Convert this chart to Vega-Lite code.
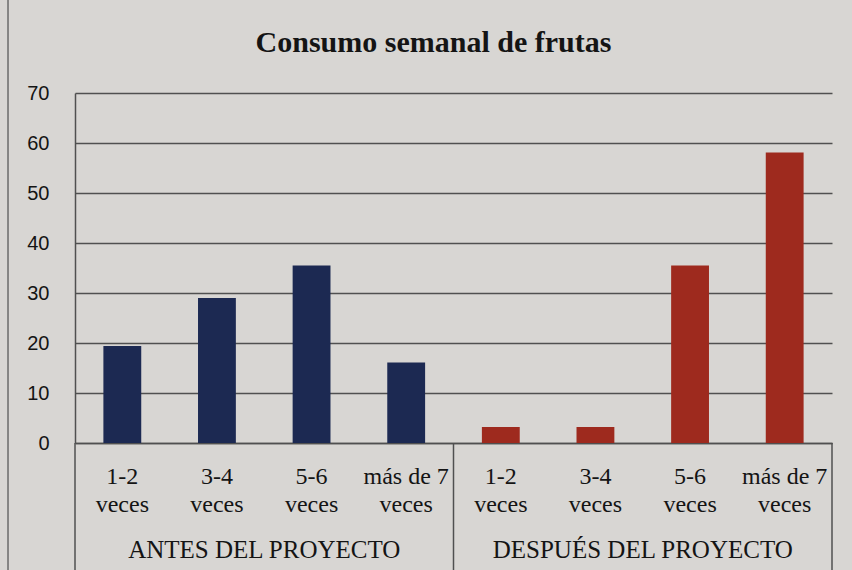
{
  "$schema": "https://vega.github.io/schema/vega-lite/v6.json",
  "width": 757,
  "height": 350,
  "autosize": {"type": "none"},
  "padding": {"left": 75, "top": 93, "right": 20, "bottom": 127},
  "background": "#d8d6d3",
  "config": {"view": {"stroke": null}},
  "title": {
    "text": "Consumo semanal de frutas",
    "font": "Liberation Serif",
    "fontSize": 30,
    "fontWeight": "bold",
    "color": "#141414",
    "anchor": "middle",
    "baseline": "alphabetic",
    "dx": -20,
    "offset": -83
  },
  "datasets": {
    "bars": [
      {"cat": "a|1-2|veces", "grupo": "ANTES DEL PROYECTO", "valor": 19.4},
      {"cat": "a|3-4|veces", "grupo": "ANTES DEL PROYECTO", "valor": 29.0},
      {"cat": "a|5-6|veces", "grupo": "ANTES DEL PROYECTO", "valor": 35.5},
      {"cat": "a|más de 7|veces", "grupo": "ANTES DEL PROYECTO", "valor": 16.1},
      {"cat": "b|1-2|veces", "grupo": "DESPUÉS DEL PROYECTO", "valor": 3.2},
      {"cat": "b|3-4|veces", "grupo": "DESPUÉS DEL PROYECTO", "valor": 3.2},
      {"cat": "b|5-6|veces", "grupo": "DESPUÉS DEL PROYECTO", "valor": 35.5},
      {"cat": "b|más de 7|veces", "grupo": "DESPUÉS DEL PROYECTO", "valor": 58.1}
    ],
    "dividers": [{"pos": 0}, {"pos": 4}, {"pos": 8}],
    "frame": [{"pos": -0.708}],
    "groups": [
      {"grupo": "ANTES DEL PROYECTO", "centro": 2},
      {"grupo": "DESPUÉS DEL PROYECTO", "centro": 6}
    ]
  },
  "layer": [
    {
      "data": {"name": "bars"},
      "mark": {"type": "bar"},
      "encoding": {
        "x": {
          "field": "cat",
          "type": "nominal",
          "sort": null,
          "scale": {"paddingInner": 0.6, "paddingOuter": 0.3},
          "axis": {
            "title": null,
            "labelAngle": 0,
            "labelExpr": "slice(split(datum.value, '|'), 1)",
            "labelFont": "Liberation Serif",
            "labelFontSize": 24,
            "labelColor": "#141414",
            "labelLineHeight": 28,
            "labelPadding": 21,
            "ticks": false,
            "domain": true,
            "domainColor": "#505050",
            "domainWidth": 1.5
          }
        },
        "y": {
          "field": "valor",
          "type": "quantitative",
          "scale": {"domain": [0, 70], "nice": false},
          "axis": {
            "title": null,
            "values": [0, 10, 20, 30, 40, 50, 60, 70],
            "grid": true,
            "gridColor": "#505050",
            "gridWidth": 1.5,
            "gridOpacity": 1,
            "ticks": false,
            "domain": true,
            "domainColor": "#505050",
            "domainWidth": 1.5,
            "labelFont": "Liberation Sans",
            "labelFontSize": 20,
            "labelColor": "#141414",
            "labelPadding": 26
          }
        },
        "color": {
          "field": "grupo",
          "type": "nominal",
          "scale": {"domain": ["ANTES DEL PROYECTO", "DESPUÉS DEL PROYECTO"], "range": ["#1c2952", "#9e2a1e"]},
          "legend": null
        }
      }
    },
    {
      "data": {"name": "dividers"},
      "mark": {"type": "rule", "color": "#505050", "strokeWidth": 1.5},
      "encoding": {
        "x": {"field": "pos", "type": "quantitative", "scale": {"domain": [0, 8], "nice": false, "zero": false}, "axis": null},
        "y": {"datum": 0, "type": "quantitative"},
        "y2": {"datum": -25.4}
      }
    },
    {
      "data": {"name": "frame"},
      "mark": {"type": "rule", "color": "#6a6a6a", "strokeWidth": 1.5},
      "encoding": {
        "x": {"field": "pos", "type": "quantitative", "scale": {"domain": [0, 8], "nice": false, "zero": false}, "axis": null},
        "y": {"datum": 88.6, "type": "quantitative"},
        "y2": {"datum": -25.4}
      }
    },
    {
      "data": {"name": "groups"},
      "mark": {"type": "text", "font": "Liberation Serif", "fontSize": 25, "color": "#141414", "baseline": "middle", "align": "center"},
      "encoding": {
        "x": {"field": "centro", "type": "quantitative", "scale": {"domain": [0, 8], "nice": false, "zero": false}, "axis": null},
        "y": {"datum": -21.4, "type": "quantitative"},
        "text": {"field": "grupo"}
      }
    }
  ],
  "resolve": {"scale": {"x": "independent"}, "axis": {"x": "independent"}}
}
